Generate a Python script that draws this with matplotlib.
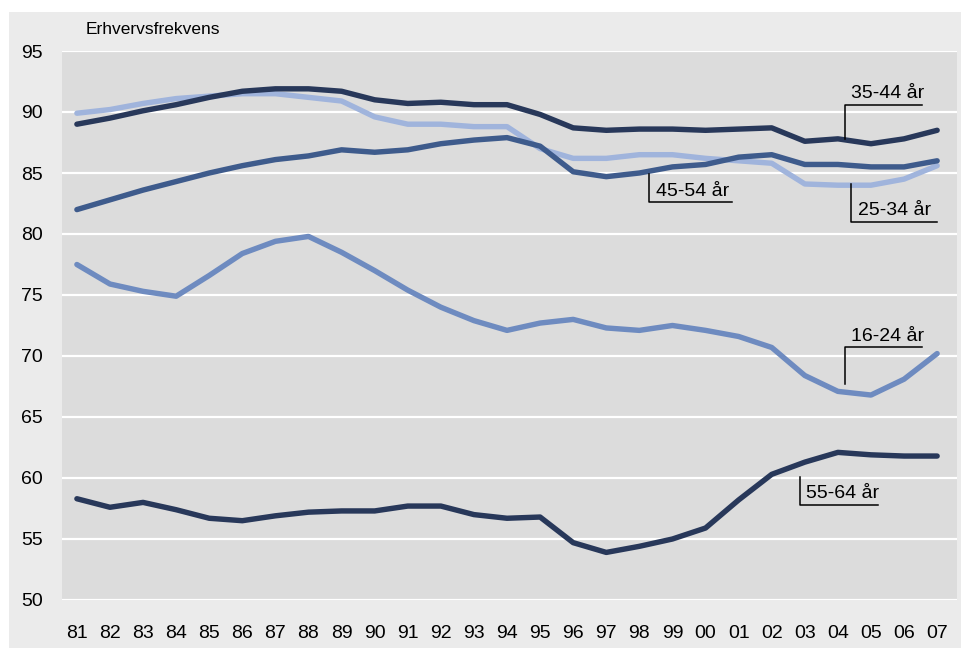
import matplotlib
matplotlib.use('Agg')
import matplotlib.pyplot as plt
from matplotlib.patches import Rectangle

plt.rcParams['font.family'] = ['Liberation Sans Narrow', 'Liberation Sans', 'DejaVu Sans']

# years on the x axis
years = ['81', '82', '83', '84', '85', '86', '87', '88', '89', '90', '91', '92', '93', '94',
         '95', '96', '97', '98', '99', '00', '01', '02', '03', '04', '05', '06', '07']

# participation rates per age group
age_16_24 = [77.5, 75.9, 75.3, 74.9, 76.6, 78.4, 79.4, 79.8, 78.5, 77.0, 75.4, 74.0, 72.9, 72.1,
             72.7, 73.0, 72.3, 72.1, 72.5, 72.1, 71.6, 70.7, 68.4, 67.1, 66.8, 68.1, 70.2]
age_25_34 = [89.9, 90.2, 90.7, 91.1, 91.3, 91.5, 91.5, 91.2, 90.9, 89.6, 89.0, 89.0, 88.8, 88.8,
             87.0, 86.2, 86.2, 86.5, 86.5, 86.2, 86.0, 85.8, 84.1, 84.0, 84.0, 84.5, 85.6]
age_35_44 = [89.0, 89.5, 90.1, 90.6, 91.2, 91.7, 91.9, 91.9, 91.7, 91.0, 90.7, 90.8, 90.6, 90.6,
             89.8, 88.7, 88.5, 88.6, 88.6, 88.5, 88.6, 88.7, 87.6, 87.8, 87.4, 87.8, 88.5]
age_45_54 = [82.0, 82.8, 83.6, 84.3, 85.0, 85.6, 86.1, 86.4, 86.9, 86.7, 86.9, 87.4, 87.7, 87.9,
             87.2, 85.1, 84.7, 85.0, 85.5, 85.7, 86.3, 86.5, 85.7, 85.7, 85.5, 85.5, 86.0]
age_55_64 = [58.3, 57.6, 58.0, 57.4, 56.7, 56.5, 56.9, 57.2, 57.3, 57.3, 57.7, 57.7, 57.0, 56.7,
             56.8, 54.7, 53.9, 54.4, 55.0, 55.9, 58.2, 60.3, 61.3, 62.1, 61.9, 61.8, 61.8]

dark = '#28385a'
mid = '#3e5b8c'
blue = '#6e8bc0'
light = '#a0b4dc'

fig = plt.figure(figsize=(9.61, 6.51), dpi=100)
fig.patch.set_facecolor('white')
# light grey panel behind the whole chart
fig.patches.append(Rectangle((9 / 961, 3 / 651), 1, 636 / 651, transform=fig.transFigure,
                             facecolor='#ebebeb', edgecolor='none', zorder=-5))

ax = fig.add_axes([62 / 961, 1 - 600 / 651, 895 / 961, 549 / 651])
ax.set_zorder(2)
ax.set_facecolor('#dcdcdc')

x = list(range(len(years)))
lw = 3.9
ax.plot(x, age_55_64, color=dark, lw=lw, solid_capstyle='round', solid_joinstyle='round')
ax.plot(x, age_16_24, color=blue, lw=lw, solid_capstyle='round', solid_joinstyle='round')
ax.plot(x, age_25_34, color=light, lw=lw, solid_capstyle='round', solid_joinstyle='round')
ax.plot(x, age_45_54, color=mid, lw=lw, solid_capstyle='round', solid_joinstyle='round')
ax.plot(x, age_35_44, color=dark, lw=lw, solid_capstyle='round', solid_joinstyle='round')

ax.set_xlim(-0.45, 26.6)
ax.set_ylim(50, 95)
ax.set_yticks(range(50, 96, 5))
ax.set_xticks(x)
ax.set_xticklabels(years)
ax.grid(axis='y', color='white', lw=1.6)
ax.set_axisbelow(True)
for s in ax.spines.values():
    s.set_visible(False)
ax.tick_params(length=0, labelsize=14, colors='black')
ax.tick_params(axis='x', pad=18)
ax.tick_params(axis='y', pad=14)

fig.text(86 / 961, 1 - 30 / 651, 'Erhvervsfrekvens', fontsize=12.5, va='center', ha='left')


def label(xl, y0, y1, x_end, text):
    """leader line: vertical from the series, then a horizontal bar with text on top"""
    ax.plot([xl, xl, x_end], [y0, y1, y1], color='black', lw=1.1, clip_on=False)
    ax.text(xl + 0.2, y1 + 0.2, text, fontsize=14, va='bottom', ha='left')


# annotation positions (year index / value units)
label(23.2, 87.8, 90.6, 25.55, '35-44 år')
label(17.3, 84.9, 82.6, 19.8, '45-54 år')
label(23.4, 84.1, 81.0, 26.0, '25-34 år')
label(23.2, 67.7, 70.7, 25.55, '16-24 år')
label(21.85, 60.1, 57.8, 24.2, '55-64 år')

plt.savefig('out.png', dpi=100, facecolor=fig.get_facecolor())
